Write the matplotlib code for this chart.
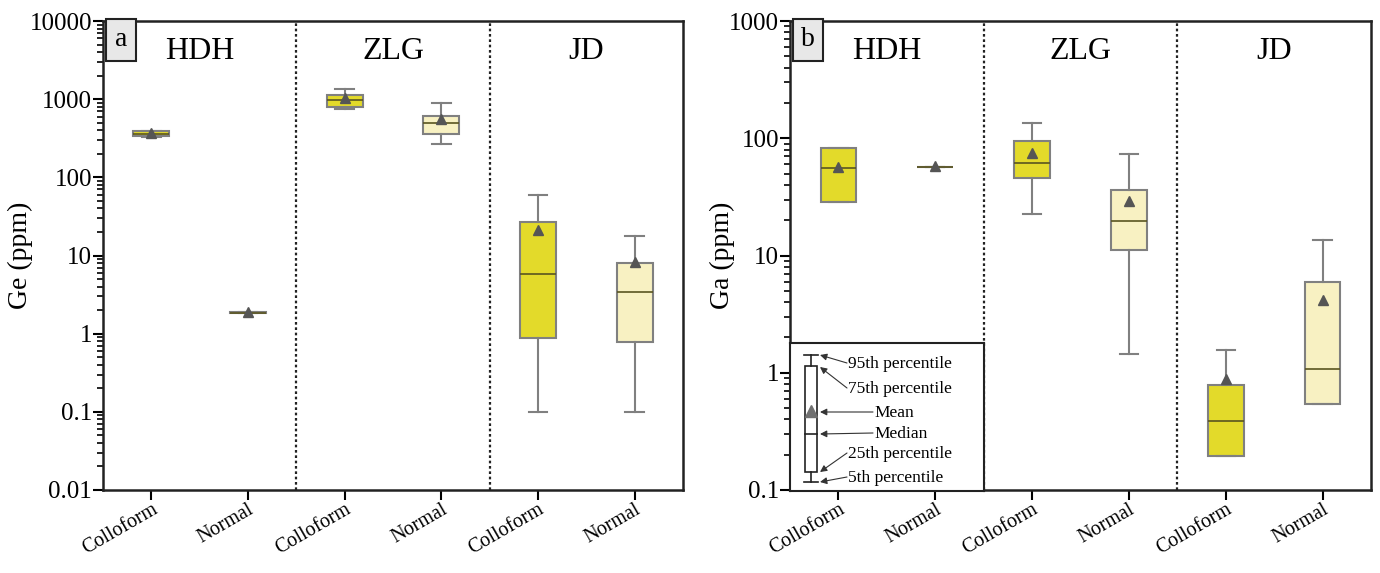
import matplotlib
matplotlib.use("Agg")
import matplotlib.pyplot as plt
from matplotlib.ticker import FuncFormatter, LogLocator, NullFormatter
from matplotlib.patches import Rectangle

plt.rcParams['font.family'] = ['Liberation Serif', 'DejaVu Serif']

regions = ["HDH", "ZLG", "JD"]
types = ["Colloform", "Normal"]
tick_labels = ["Colloform", "Normal", "Colloform", "Normal", "Colloform", "Normal"]

# Ge (ppm): whislo, q1, med, q3, whishi, mean
ge_whislo = [330, 1.82, 740, 265, 0.10, 0.10]
ge_q1     = [335, 1.84, 790, 360, 0.88, 0.78]
ge_med    = [360, 1.86, 965, 500, 5.8, 3.4]
ge_q3     = [390, 1.88, 1130, 610, 26.5, 8.0]
ge_whishi = [392, 1.90, 1340, 900, 60, 18]
ge_mean   = [372, 1.92, 1020, 550, 21, 8.2]

# Ga (ppm)
ga_whislo = [28.5, 56.5, 22.6, 1.44, 0.196, 0.54]
ga_q1     = [28.5, 56.6, 45.5, 11.2, 0.196, 0.54]
ga_med    = [56, 56.7, 62, 19.5, 0.39, 1.07]
ga_q3     = [83, 56.8, 95, 36.5, 0.78, 5.9]
ga_whishi = [83, 56.9, 135, 73, 1.55, 13.6]
ga_mean   = [57, 58, 75, 29, 0.89, 4.2]

ylims = [(0.01, 10000), (0.1, 1000)]
ylabels = ["Ge (ppm)", "Ga (ppm)"]
ylabel_x = [-0.12, -0.095]
panel_letters = ["a", "b"]

colors = {"Colloform": "#E3DA2A", "Normal": "#F8F1C2"}
edge = "#808080"

W, H = 1380, 573
fig = plt.figure(figsize=(W / 100, H / 100), dpi=100)

panels = [
    (103, 683, (ge_whislo, ge_q1, ge_med, ge_q3, ge_whishi, ge_mean)),
    (790, 1371, (ga_whislo, ga_q1, ga_med, ga_q3, ga_whishi, ga_mean)),
]
top_px, bot_px = 21, 490

for p, (l, r, data) in enumerate(panels):
    ax = fig.add_axes([l / W, (H - bot_px) / H, (r - l) / W, (bot_px - top_px) / H])
    wl, q1, med, q3, wh, mn = data
    stats = []
    for i in range(6):
        stats.append(dict(whislo=wl[i], q1=q1[i], med=med[i], q3=q3[i],
                          whishi=wh[i], mean=mn[i], fliers=[], label=tick_labels[i]))
    positions = [0.5 + i for i in range(6)]
    bp = ax.bxp(stats, positions=positions, widths=0.37, capwidths=0.19,
                showmeans=True, showfliers=False, patch_artist=True,
                boxprops=dict(edgecolor=edge, linewidth=1.5),
                whiskerprops=dict(color=edge, linewidth=1.5),
                capprops=dict(color=edge, linewidth=1.5),
                medianprops=dict(color="#5a5520", linewidth=1.2),
                meanprops=dict(marker="^", markerfacecolor="#555555",
                               markeredgecolor="#555555", markersize=7.5))
    for i, box in enumerate(bp["boxes"]):
        box.set_facecolor(colors[tick_labels[i]])

    ax.set_yscale("log")
    ax.set_ylim(*ylims[p])
    ax.set_xlim(0, 6)
    ax.yaxis.set_major_locator(LogLocator(base=10, numticks=20))
    ax.yaxis.set_minor_locator(LogLocator(base=10, subs=range(2, 10), numticks=100))
    ax.yaxis.set_major_formatter(FuncFormatter(lambda v, pos: "%g" % v))
    ax.yaxis.set_minor_formatter(NullFormatter())
    ax.set_xticks(positions)
    ax.set_xticklabels(tick_labels, rotation=30, ha="right", rotation_mode="anchor",
                       fontsize=14.5)
    ax.tick_params(axis="y", which="major", direction="out", length=7, width=1.5,
                   labelsize=18, pad=1)
    ax.tick_params(axis="y", which="minor", direction="out", length=4, width=1.2)
    ax.tick_params(axis="x", which="major", direction="out", length=7, width=1.5,
                   pad=0)
    for s in ax.spines.values():
        s.set_linewidth(1.8)
        s.set_color("#222222")
    ax.set_ylabel(ylabels[p], fontsize=20)
    ax.yaxis.set_label_coords(ylabel_x[p], 0.5)

    for xd in (2, 4):
        ax.axvline(xd, color="#222222", linestyle=(0, (1.2, 1.2)), linewidth=1.6)

    for k, reg in enumerate(regions):
        ax.text(1 + 2 * k, 0.965, reg, transform=ax.get_xaxis_transform(),
                ha="center", va="top", fontsize=23)

    # panel letter box
    ax.text(0.031, 0.96, panel_letters[p], transform=ax.transAxes, ha="center",
            va="center", fontsize=20,
            bbox=dict(boxstyle="square,pad=0.3", facecolor="#e8e8e8",
                      edgecolor="#222222", linewidth=1.5))

# legend inset in panel b (pixel coordinates)
lx0, lx1, ly0, ly1 = 790, 984, 343, 491
lax = fig.add_axes([lx0 / W, (H - ly1) / H, (lx1 - lx0) / W, (ly1 - ly0) / H])
lax.set_xlim(lx0, lx1)
lax.set_ylim(ly1, ly0)
lax.set_xticks([])
lax.set_yticks([])
lax.patch.set_facecolor("white")
for s in lax.spines.values():
    s.set_linewidth(1.5)
    s.set_color("#222222")

cx = 811
lax.plot([cx, cx], [355, 366], color="#222", lw=1.2)
lax.plot([cx, cx], [472, 482], color="#222", lw=1.2)
lax.plot([804, 818], [355, 355], color="#222", lw=1.2)
lax.plot([804, 818], [482, 482], color="#222", lw=1.2)
lax.add_patch(Rectangle((805, 366), 12, 106, facecolor="white", edgecolor="#222", lw=1.2))
lax.plot([805, 817], [434, 434], color="#222", lw=1.2)
lax.plot([cx], [411], marker="^", color="#707070", markersize=8)

legend_items = [
    ("95th percentile", 848, 364, 355),
    ("75th percentile", 848, 389, 367),
    ("Mean", 874, 413, 412),
    ("Median", 874, 434, 434),
    ("25th percentile", 848, 454, 472),
    ("5th percentile", 848, 478, 482),
]
for txt, tx, ty, ay in legend_items:
    lax.text(tx, ty, txt, ha="left", va="center", fontsize=12.5)
    lax.annotate("", xy=(820, ay), xytext=(tx - 1, ty - 1),
                 arrowprops=dict(arrowstyle="-|>", lw=0.8, color="#333333",
                                 mutation_scale=10, shrinkA=0, shrinkB=0))

fig.savefig("out.png", dpi=100)
